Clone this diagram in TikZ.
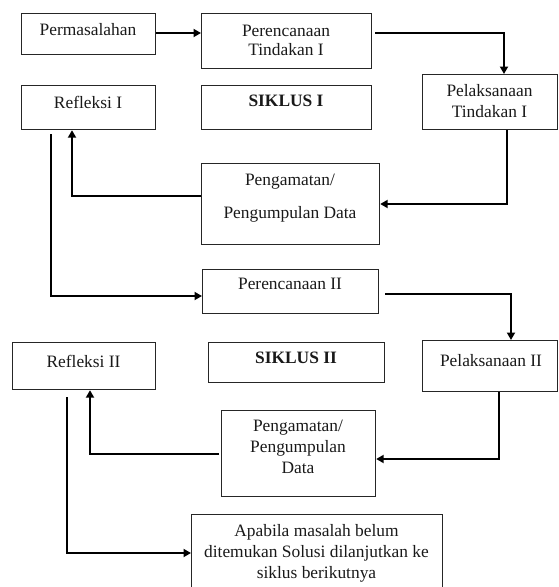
\documentclass[tikz,border=0pt]{standalone}
\usepackage{fontspec}
\setmainfont{Liberation Serif}
\usetikzlibrary{calc,arrows.meta}
\begin{document}
\begin{tikzpicture}[x=1pt,y=-1pt,
  box/.style={draw=black!85, line width=1.2pt, anchor=north west, inner sep=0pt},
  txt/.style={font=\fontsize{17.4}{21}\selectfont, align=center, inner sep=0pt, anchor=center, text=black!90},
  conn/.style={line width=2.6pt, -{Triangle[length=7.5pt,width=8pt]}}]
\useasboundingbox (0,0) rectangle (558,587);
% boxes
\node[box, minimum width=134pt, minimum height=41pt] (perm) at (21,13) {};
\node[box, minimum width=170pt, minimum height=55pt] (per1) at (201,13) {};
\node[box, minimum width=134pt, minimum height=44pt] (ref1) at (21,85) {};
\node[box, minimum width=170pt, minimum height=44pt] (sik1) at (201,85) {};
\node[box, minimum width=135pt, minimum height=55pt] (pel1) at (422,74) {};
\node[box, minimum width=178pt, minimum height=81pt] (peng1) at (201,163) {};
\node[box, minimum width=176pt, minimum height=44pt] (per2) at (202,269) {};
\node[box, minimum width=143pt, minimum height=47pt] (ref2) at (12,342) {};
\node[box, minimum width=176pt, minimum height=40pt] (sik2) at (208,342) {};
\node[box, minimum width=135pt, minimum height=51pt] (pel2) at (422,340) {};
\node[box, minimum width=154pt, minimum height=86pt] (peng2) at (221,410) {};
\node[box, minimum width=251pt, minimum height=80pt] (apa) at (191,514) {};
% texts
\node[txt] (tperm) at (88,29.2) {Permasalahan};
\node[txt, font=\fontsize{17.4}{19.5}\selectfont] (tper1) at (286,40.5) {Perencanaan\\Tindakan I};
\node[txt] (tref1) at (88,102.5) {Refleksi I};
\node[txt] (tsik1) at (286,101) {\textbf{SIKLUS I}};
\node[txt] (tpel1) at (489.5,101.5) {Pelaksanaan\\Tindakan I};
\node[txt, font=\fontsize{17.4}{33}\selectfont] (tpeng1) at (290,198.4) {Pengamatan/\\Pengumpulan Data};
\node[txt] (tper2) at (290,284.2) {Perencanaan II};
\node[txt] (tref2) at (83.5,361) {Refleksi II};
\node[txt] (tsik2) at (296,357.7) {\textbf{SIKLUS II}};
\node[txt] (tpel2) at (491,360.3) {Pelaksanaan II};
\node[txt] (tpeng2) at (298,447.3) {Pengamatan/\\Pengumpulan\\Data};
\node[txt] (tapa) at (316.5,553) {Apabila masalah belum\\ditemukan Solusi dilanjutkan ke\\siklus berikutnya};
% connectors
\draw[conn] (perm.east |- 0,33) -- (per1.west |- 0,33);
\draw[conn] ($(per1.north east)+(3,20)$) -| ($(pel1.north west)+(82,0)$);
\draw[conn] ($(pel1.south west)+(85,0)$) |- ($(peng1.north east)+(0,41)$);
\draw[conn] ($(peng1.north west)+(0,33)$) -| ($(ref1.south west)+(51,0)$);
\draw[conn] ($(ref1.south west)+(30,4)$) |- ($(per2.north west)+(0,27)$);
\draw[conn] ($(per2.north east)+(6,25)$) -| ($(pel2.north west)+(89,0)$);
\draw[conn] ($(pel2.south west)+(77,0)$) |- ($(peng2.north east)+(0,49)$);
\draw[conn] ($(peng2.north west)+(-2,44)$) -| ($(ref2.south west)+(78,0)$);
\draw[conn] ($(ref2.south west)+(55,7)$) |- ($(apa.north west)+(0,39)$);
\end{tikzpicture}
\end{document}
